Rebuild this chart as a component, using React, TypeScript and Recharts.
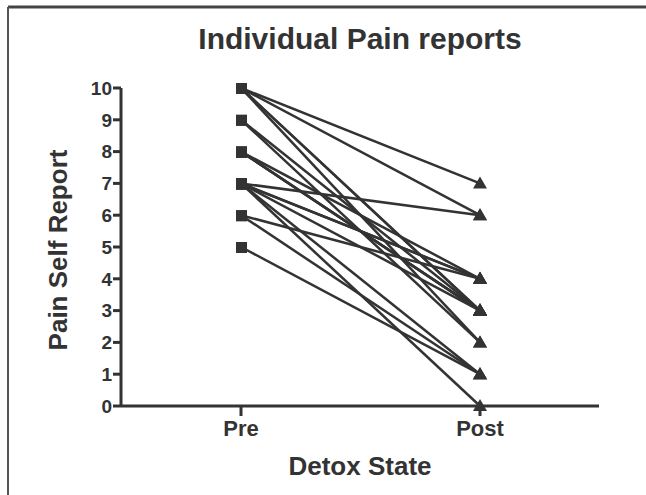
import React from 'react';
import { LineChart, Line, XAxis, YAxis } from 'recharts';

const STATES = ['Pre', 'Post'];

// one entry per subject: pre-detox score and post-detox score
const PRE_SCORES = [10, 10, 10, 10, 10, 9, 9, 8, 8, 8, 8, 7, 7, 7, 7, 7, 7, 6, 6, 5];
const POST_SCORES = [7, 6, 3, 2, 3, 3, 2, 4, 3, 3, 3, 6, 4, 4, 3, 1, 0, 4, 1, 1];

const Y_TICKS = [0, 1, 2, 3, 4, 5, 6, 7, 8, 9, 10];

const INK = '#333';
const FONT = "'Liberation Sans', Arial, sans-serif";

const chartData = STATES.map((state, i) => {
  const row: any = { state };
  PRE_SCORES.forEach((pre, s) => {
    row[`s${s}`] = i === 0 ? pre : POST_SCORES[s];
  });
  return row;
});

// square marker for Pre, triangle for Post
const Marker = (props: any) => {
  const { cx, cy, index, key } = props;
  if (cx == null || cy == null) return null;
  if (index === 0) {
    return <rect key={key} x={cx - 5} y={cy - 5} width={11} height={11} fill={INK} />;
  }
  return (
    <path
      key={key}
      d={`M${cx},${cy - 7} L${cx + 7},${cy + 5} L${cx - 7},${cy + 5} Z`}
      fill={INK}
    />
  );
};

export default function App() {
  return (
    <div style={{ position: 'relative', width: 646, height: 495, background: '#fff' }}>
      <style>{'body{margin:0}'}</style>
      <svg
        width={646}
        height={495}
        style={{ position: 'absolute', left: 0, top: 0, pointerEvents: 'none' }}
      >
        <line x1={8} y1={7} x2={646} y2={7} stroke="#444" strokeWidth={3} />
        <line x1={8} y1={7} x2={8} y2={495} stroke="#555" strokeWidth={2} />
        <text
          x={360}
          y={49}
          textAnchor="middle"
          fontFamily={FONT}
          fontWeight="bold"
          fontSize={30}
          fill={INK}
        >
          Individual Pain reports
        </text>
        <text
          x={360}
          y={475}
          textAnchor="middle"
          fontFamily={FONT}
          fontWeight="bold"
          fontSize={26}
          fill={INK}
        >
          Detox State
        </text>
        <text
          transform="translate(67,250) rotate(-90)"
          textAnchor="middle"
          fontFamily={FONT}
          fontWeight="bold"
          fontSize={26}
          fill={INK}
        >
          Pain Self Report
        </text>
      </svg>
      <div style={{ position: 'absolute', left: 0, top: 0 }}>
        <LineChart
          width={646}
          height={495}
          data={chartData}
          margin={{ top: 88, right: 47, bottom: 59, left: 81 }}
        >
          <XAxis
            dataKey="state"
            height={30}
            padding={{ left: 120, right: 119 }}
            axisLine={{ stroke: INK, strokeWidth: 3 }}
            tickLine={{ stroke: INK, strokeWidth: 3 }}
            tickSize={10}
            tickMargin={4}
            tick={{ fill: INK, fontSize: 22, fontWeight: 'bold', fontFamily: FONT }}
          />
          <YAxis
            width={40}
            domain={[0, 10]}
            ticks={Y_TICKS}
            interval={0}
            axisLine={{ stroke: INK, strokeWidth: 3 }}
            tickLine={{ stroke: INK, strokeWidth: 3 }}
            tickSize={8}
            tickMargin={1}
            tick={{ fill: INK, fontSize: 19, fontWeight: 'bold', fontFamily: FONT }}
          />
          {PRE_SCORES.map((_, s) => (
            <Line
              key={s}
              dataKey={`s${s}`}
              stroke={INK}
              strokeWidth={2.5}
              dot={Marker}
              activeDot={false}
              isAnimationActive={false}
            />
          ))}
        </LineChart>
      </div>
    </div>
  );
}
